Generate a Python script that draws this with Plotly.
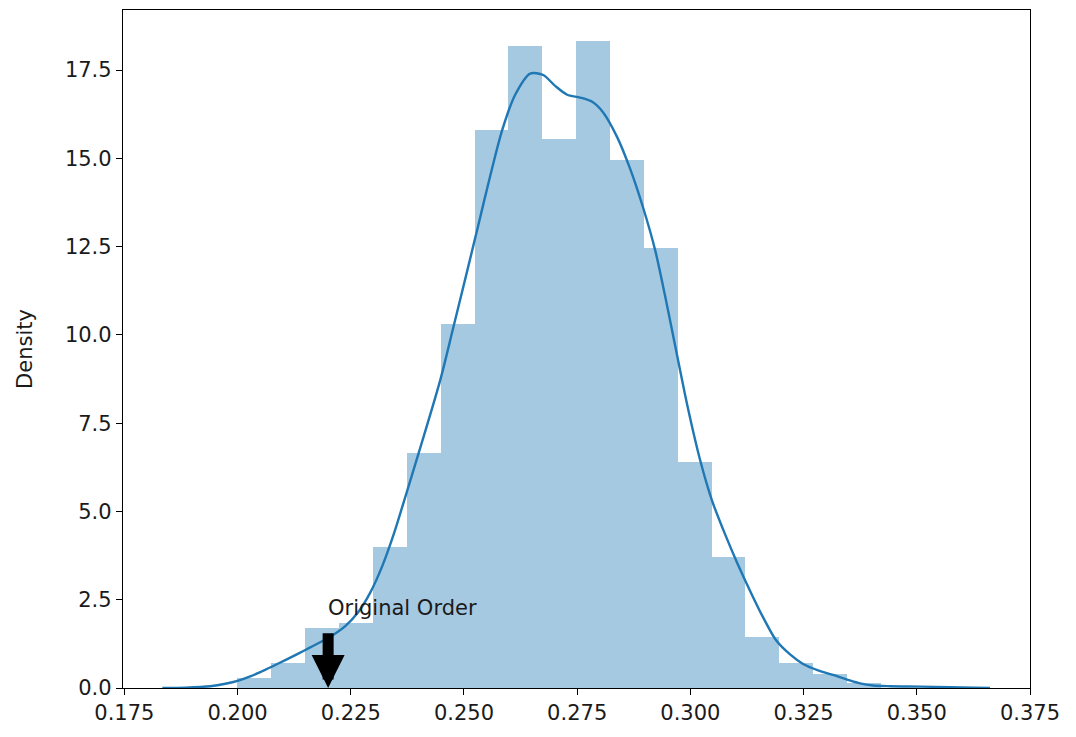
import plotly.graph_objects as go

# Histogram (density)
bin_edges = [0.19997, 0.20745, 0.21493, 0.22241, 0.22989, 0.23737, 0.24485,
             0.25233, 0.25981, 0.26729, 0.27477, 0.28225, 0.28973, 0.29721,
             0.30469, 0.31217, 0.31965, 0.32713, 0.33461, 0.34209]
bin_density = [0.28, 0.70, 1.70, 1.85, 4.00, 6.65, 10.31, 15.80, 18.18, 15.55,
               18.33, 14.95, 12.45, 6.41, 3.72, 1.45, 0.70, 0.40, 0.15]

# KDE curve points
kde_x = [0.18339, 0.18847, 0.19398, 0.19730, 0.20017, 0.20281, 0.20502, 0.20767,
         0.21054, 0.21319, 0.21606, 0.22047, 0.22379, 0.22666, 0.22930, 0.23195,
         0.23460, 0.23725, 0.24034, 0.24476, 0.24763, 0.25050, 0.25315, 0.25579,
         0.25844, 0.26131, 0.26462, 0.26749, 0.27014, 0.27279, 0.27566, 0.27831,
         0.28074, 0.28383, 0.28670, 0.28957, 0.29222, 0.29442, 0.29663, 0.29950,
         0.30216, 0.30480, 0.30767, 0.31032, 0.31319, 0.31606, 0.31893, 0.32201,
         0.32489, 0.32820, 0.33151, 0.33460, 0.33748, 0.34034, 0.34410, 0.35072,
         0.35734, 0.36286, 0.36617]
kde_y = [0.00, 0.01, 0.05, 0.12, 0.21, 0.33, 0.45, 0.61,
         0.79, 0.96, 1.15, 1.45, 1.75, 2.15, 2.70, 3.45,
         4.40, 5.50, 6.80, 8.72, 10.2, 11.7, 13.1, 14.5,
         15.8, 16.8, 17.4, 17.36, 17.05, 16.8, 16.72, 16.6,
         16.3, 15.6, 14.7, 13.6, 12.4, 11.1, 9.7, 7.9,
         6.45, 5.3, 4.35, 3.55, 2.75, 2.0, 1.35, 0.95,
         0.68, 0.50, 0.37, 0.24, 0.13, 0.07, 0.05, 0.04,
         0.025, 0.01, 0.00]

x_ticks = [0.175, 0.200, 0.225, 0.250, 0.275, 0.300, 0.325, 0.350, 0.375]
y_ticks = [0.0, 2.5, 5.0, 7.5, 10.0, 12.5, 15.0, 17.5]

annot_text = "Original Order"
annot_x = 0.22
annot_text_y = 2.0
arrow_tail_y = 1.59
arrow_tip_y = 0.0

centers = [(bin_edges[i] + bin_edges[i + 1]) / 2 for i in range(len(bin_density))]
widths = [bin_edges[i + 1] - bin_edges[i] for i in range(len(bin_density))]

FONT = "DejaVu Sans"

fig = go.Figure()
fig.add_trace(go.Bar(
    x=centers, y=bin_density, width=widths,
    marker=dict(color="rgba(31,119,180,0.4)", line=dict(width=0)),
    hoverinfo="skip", showlegend=False,
))
fig.add_trace(go.Scatter(
    x=kde_x, y=kde_y, mode="lines",
    line=dict(color="#1f77b4", width=2.4, shape="spline", smoothing=0.8),
    showlegend=False,
))

fig.add_annotation(
    x=annot_x, y=arrow_tip_y, ax=annot_x, ay=arrow_tail_y,
    xref="x", yref="y", axref="x", ayref="y",
    text="", showarrow=True, arrowhead=2, arrowsize=0.6, arrowwidth=11,
    arrowcolor="black",
)
fig.add_annotation(
    x=annot_x, y=annot_text_y, xref="x", yref="y",
    text=annot_text, showarrow=False, xanchor="left", yanchor="bottom",
    xshift=-2, yshift=-5,
    font=dict(family=FONT, size=21, color="#1a1a1a"),
)

axis_common = dict(
    showline=True, linecolor="black", linewidth=1.3, mirror=True,
    ticks="outside", ticklen=6, tickwidth=1.3, tickcolor="black",
    showgrid=False, zeroline=False,
    tickfont=dict(family=FONT, size=21, color="#1a1a1a"),
)

fig.update_layout(
    width=1076, height=737,
    margin=dict(l=123, r=46, t=10, b=49),
    paper_bgcolor="white", plot_bgcolor="white",
    bargap=0,
    xaxis=dict(range=[0.1747, 0.375], tickvals=x_ticks,
               ticktext=[f"{v:.3f}" for v in x_ticks], **axis_common),
    yaxis=dict(range=[0, 19.2], tickvals=y_ticks,
               ticktext=[f"{v:.1f}" for v in y_ticks],
               title=dict(text="Density", font=dict(family=FONT, size=21, color="#1a1a1a"),
                          standoff=26),
               **axis_common),
)

fig.write_html("out.html")
